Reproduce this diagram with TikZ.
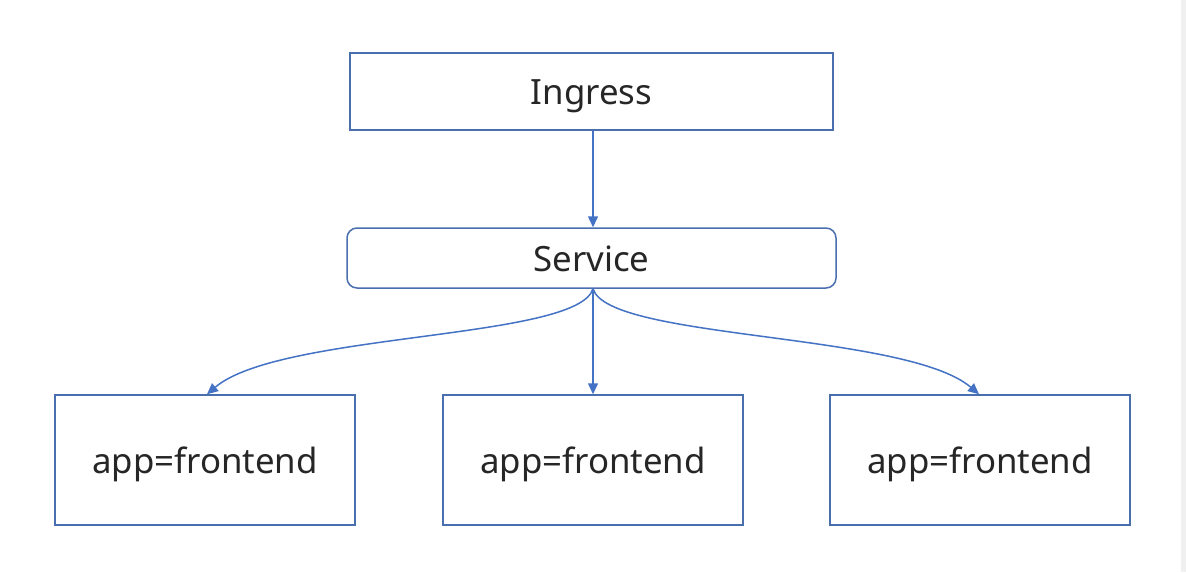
\documentclass[tikz,border=0pt]{standalone}
\usepackage{fontspec}
\setmainfont{Noto Sans}
\usepackage{xcolor}
\usetikzlibrary{arrows.meta,positioning,calc}
\definecolor{linkblue}{HTML}{4472C4}
\definecolor{boxblue}{HTML}{4A6FAE}

\begin{document}
\begin{tikzpicture}[x=0.5pt,y=-0.5pt]
    % Define node styles
    \tikzstyle{box}=[rectangle, draw=boxblue, line width=0.75pt, inner sep=0pt, text height=15pt, text depth=2pt, font=\fontsize{17.4}{20}\selectfont, text=black!85]
    \tikzstyle{top box}=[box, minimum width=241.5pt, minimum height=38.5pt]
    \tikzstyle{service box}=[box, rounded corners=5pt, minimum width=244.5pt, minimum height=30pt]
    \tikzstyle{app box}=[box, minimum width=150pt, minimum height=65pt]
    \tikzstyle{link}=[draw=linkblue, line width=0.75pt, -{Triangle[length=5.5pt,width=5pt]}]

    \useasboundingbox[fill=white] (0,0) rectangle (1186,572);
    \fill[black!6] (1181,0) rectangle (1186,572);

    % Draw ingress and service
    \node[top box] (ingress) at (591.5,91.5) {Ingress};
    \node[service box] (service) at (591.5,258) {Service};

    % Draw app layer
    \foreach \i/\x in {1/205,2/593,3/980} {
        \node[app box] (app-\i) at (\x,460) {app=frontend};
    }

    % Connect nodes
    \draw[link] (ingress.south -| 593,0) -- (service.north -| 593,0);
    \draw[link] (service.south -| 593,0) -- (app-2.north -| 593,0);
    \draw[link] (service.south -| 593,0) .. controls (578,340) and (280,332) .. (app-1.north -| 207,0);
    \draw[link] (service.south -| 593,0) .. controls (608,340) and (906,332) .. (app-3.north -| 979,0);
\end{tikzpicture}
\end{document}
